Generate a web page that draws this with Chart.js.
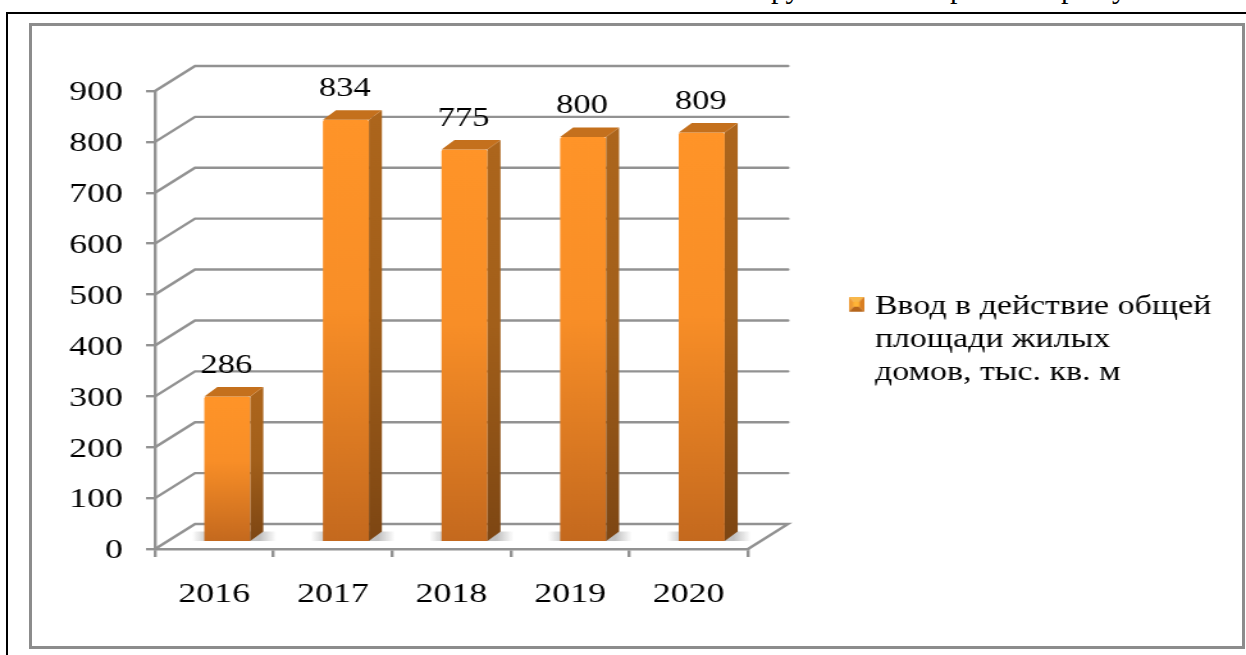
<!DOCTYPE html>
<html lang="ru">
<head>
<meta charset="utf-8">
<title>Ввод в действие общей площади жилых домов</title>
<script src="https://cdn.jsdelivr.net/npm/chart.js@4/dist/chart.umd.min.js"></script>
<style>
html,body{margin:0;padding:0;background:#fff;width:1246px;height:655px;overflow:hidden}
#outer{position:absolute;left:6px;top:12px;width:1300px;height:700px;border:2px solid #000;box-sizing:border-box}
#inner{position:absolute;left:29px;top:23px;width:1216px;height:626px;border:3px solid #8c8c8c;box-sizing:border-box}
#chart{position:absolute;left:0;top:0;width:1246px!important;height:655px!important;filter:blur(.4px)}
.clip{position:absolute;top:-27px;font:30px "Liberation Serif",serif;line-height:30px;color:#000}
</style>
</head>
<body>
<div id="outer"></div>
<div id="inner"></div>
<span class="clip" style="left:771px">ру</span>
<span class="clip" style="left:950px">р</span>
<span class="clip" style="left:1061px">р</span>
<span class="clip" style="left:1112px">у</span>
<canvas id="chart" width="973" height="655"></canvas>
<script>
const categories = ['2016', '2017', '2018', '2019', '2020'];
const values = [286, 834, 775, 800, 809];
const seriesName = 'Ввод в действие общей площади жилых домов, тыс. кв. м';
const legendLines = ['Ввод в действие общей', 'площади жилых', 'домов, тыс. кв. м'];
const yTicks = [0, 100, 200, 300, 400, 500, 600, 700, 800, 900];

const S = 1246 / 973;
const px = x => x / S;
const FONT = '"Liberation Serif","Times New Roman",serif';
const GRID = '#929292';
const DEPTH_X = px(40), DEPTH_Y = 25;
const BAR_SHIFT = px(13), SIDE_X = px(13), SIDE_Y = 9.5;

function makeMarker() {
  const c = document.createElement('canvas');
  const w = Math.round(px(15)), h = 15;
  c.width = w; c.height = h + 6;
  const g = c.getContext('2d');
  const tri = (col, pts) => {
    g.fillStyle = col; g.beginPath();
    pts.forEach((p, i) => i ? g.lineTo(p[0], p[1]) : g.moveTo(p[0], p[1]));
    g.closePath(); g.fill();
  };
  const cx = w / 2, cy = h / 2;
  tri('#f8b84a', [[0, 0], [w, 0], [cx, cy]]);
  tri('#ee9a34', [[0, 0], [0, h], [cx, cy]]);
  tri('#d97f22', [[w, 0], [w, h], [cx, cy]]);
  tri('#b5651b', [[0, h], [w, h], [cx, cy]]);
  g.fillStyle = '#ffb437';
  g.fillRect(cx - 2.5, cy - 2.5, 5, 5);
  return c;
}
const marker = makeMarker();

const scene3d = {
  id: 'scene3d',
  afterLayout(chart) {
    const l = chart.legend;
    if (!l) return;
    const w = l.width, h = l.height;
    l.left = px(847); l.right = l.left + w;
    l.top = 288; l.bottom = l.top + h;
    l.adjustHitBoxes();
  },
  beforeDatasetsDraw(chart) {
    const { ctx, chartArea: a, scales: { y } } = chart;
    ctx.save();
    ctx.strokeStyle = GRID;
    ctx.lineWidth = 2.4;
    ctx.lineCap = 'round';
    yTicks.forEach(v => {
      const p = y.getPixelForValue(v);
      ctx.beginPath();
      ctx.moveTo(a.left, p);
      ctx.lineTo(a.left + DEPTH_X, p - DEPTH_Y);
      ctx.lineTo(a.right + DEPTH_X, p - DEPTH_Y);
      if (v === 0) ctx.lineTo(a.right, p);
      ctx.stroke();
    });
    ctx.restore();
  },
  beforeDatasetDraw(chart, args) {
    const { ctx } = chart;
    ctx.save();
    ctx.translate(BAR_SHIFT, 0);
    chart.getDatasetMeta(args.index).data.forEach(b => {
      const w = b.width;
      const l = b.x - w / 2, r = b.x + w / 2;
      const sl = l - px(12), sr = r + SIDE_X + px(13);
      const g = ctx.createLinearGradient(sl, 0, sr, 0);
      g.addColorStop(0, 'rgba(130,130,130,0)');
      g.addColorStop(.2, 'rgba(130,130,130,.5)');
      g.addColorStop(.8, 'rgba(130,130,130,.5)');
      g.addColorStop(1, 'rgba(130,130,130,0)');
      ctx.fillStyle = g;
      ctx.fillRect(sl, b.base - SIDE_Y, sr - sl, SIDE_Y);
    });
  },
  afterDatasetDraw(chart, args) {
    const { ctx } = chart;
    chart.getDatasetMeta(args.index).data.forEach(b => {
      const w = b.width;
      const l = b.x - w / 2, r = b.x + w / 2, t = b.y, base = b.base;
      const sg = ctx.createLinearGradient(0, t, 0, base);
      sg.addColorStop(0, '#ac651c');
      sg.addColorStop(.45, '#a25f1a');
      sg.addColorStop(1, '#7d4613');
      ctx.fillStyle = sg;
      ctx.beginPath();
      ctx.moveTo(r, t);
      ctx.lineTo(r + SIDE_X, t - SIDE_Y);
      ctx.lineTo(r + SIDE_X, base - SIDE_Y);
      ctx.lineTo(r, base);
      ctx.closePath();
      ctx.fill();
      ctx.fillStyle = '#c4701d';
      ctx.beginPath();
      ctx.moveTo(l, t);
      ctx.lineTo(l + SIDE_X, t - SIDE_Y);
      ctx.lineTo(r + SIDE_X, t - SIDE_Y);
      ctx.lineTo(r, t);
      ctx.closePath();
      ctx.fill();
    });
    ctx.restore();
  },
  afterDatasetsDraw(chart) {
    const { ctx } = chart;
    ctx.save();
    ctx.font = '27px ' + FONT;
    ctx.fillStyle = '#000';
    ctx.textAlign = 'center';
    ctx.textBaseline = 'middle';
    chart.getDatasetMeta(0).data.forEach((b, i) => {
      ctx.fillText(String(values[i]), b.x + BAR_SHIFT - px(1), b.y - 31);
    });
    ctx.restore();
  }
};

new Chart(document.getElementById('chart'), {
  type: 'bar',
  plugins: [scene3d],
  data: {
    labels: categories,
    datasets: [{
      label: seriesName,
      data: values,
      yAxisID: 'y1',
      categoryPercentage: 1,
      barPercentage: 46 / 118.6,
      borderWidth: 0,
      borderRadius: 2,
      backgroundColor(c) {
        if (c.type !== 'data' || !c.chart.scales.y1) return '#f08a26';
        const s = c.chart.scales.y1;
        const g = c.chart.ctx.createLinearGradient(0, s.getPixelForValue(values[c.dataIndex]), 0, s.getPixelForValue(0));
        g.addColorStop(0, '#ff9428');
        g.addColorStop(.45, '#f88e27');
        g.addColorStop(1, '#c4691e');
        return g;
      }
    }]
  },
  options: {
    responsive: false,
    devicePixelRatio: 1,
    animation: false,
    layout: { padding: { left: 0, top: 91, right: 973 - px(748), bottom: 0 } },
    plugins: {
      tooltip: { enabled: false },
      title: { display: false },
      legend: {
        display: true,
        position: 'chartArea',
        align: 'start',
        labels: {
          usePointStyle: true,
          boxWidth: 2.5,
          boxHeight: 15,
          padding: 6,
          color: '#000',
          font: { family: FONT, size: 26.5, lineHeight: 1.25 },
          generateLabels: () => [{
            text: legendLines,
            pointStyle: marker,
            fillStyle: '#f08a26',
            strokeStyle: 'transparent',
            lineWidth: 0,
            hidden: false,
            datasetIndex: 0,
            fontColor: '#000'
          }]
        }
      }
    },
    scales: {
      x: {
        afterFit(s) { s.height = 655 - 549; },
        grid: { drawOnChartArea: false, drawTicks: true, tickLength: 8, color: GRID, lineWidth: 2.4 },
        border: { display: true, color: GRID, width: 2.4 },
        ticks: { color: '#000', padding: 21, font: { family: FONT, size: 28 }, maxRotation: 0 }
      },
      y: {
        min: 0,
        max: 900,
        afterFit(s) { s.width = px(155); },
        afterBuildTicks(s) { s.ticks = yTicks.map(v => ({ value: v })); },
        grid: { drawOnChartArea: false, drawTicks: true, tickLength: px(9), color: GRID, lineWidth: 2.4 },
        border: { display: true, color: GRID, width: 2.4 },
        ticks: { color: '#000', padding: px(23), labelOffset: 2, font: { family: FONT, size: 28 } }
      },
      y1: {
        display: false,
        min: -15.8,
        max: 891
      }
    }
  }
});
</script>
</body>
</html>
